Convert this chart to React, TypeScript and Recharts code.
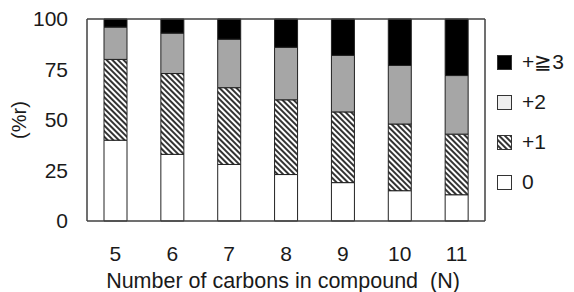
import { BarChart, Bar, XAxis, YAxis } from 'recharts'

const carbons = ['5', '6', '7', '8', '9', '10', '11']
const zero = [40, 33, 28, 23, 19, 15, 13]
const plusOne = [40, 40, 38, 37, 35, 33, 30]
const plusTwo = [16, 20, 24, 26, 28, 29, 29]
const plusThree = [4, 7, 10, 14, 18, 23, 28]
const yTicks = [0, 25, 50, 75, 100]

const FONT = '"Liberation Sans", Arial, sans-serif'
const AXIS = '#404040'
const TEXT = '#1a1a1a'

const data = carbons.map((n, i) => ({
  n,
  zero: zero[i],
  plusOne: plusOne[i],
  plusTwo: plusTwo[i],
  plusThree: plusThree[i],
}))

// legend swatches don't match the bar fills exactly in the original (+2 is lighter there)
const legendItems = [
  { label: '+≧3', fill: '#000000' },
  { label: '+2', fill: '#eeeeee' },
  { label: '+1', fill: 'url(#hatchL)' },
  { label: '0', fill: '#ffffff' },
]

function LegendBox() {
  return (
    <div
      style={{
        position: 'absolute',
        left: 497,
        top: 42,
        fontFamily: FONT,
        fontSize: 21,
        color: TEXT,
      }}
    >
      {legendItems.map((it) => (
        <div key={it.label} style={{ display: 'flex', alignItems: 'center', height: 40 }}>
          <svg width={15} height={15} style={{ marginRight: 10 }}>
            <defs>
              <pattern
                id="hatchL"
                width={4}
                height={4}
                patternUnits="userSpaceOnUse"
                patternTransform="rotate(-45)"
              >
                <rect width={4} height={4} fill="#fff" />
                <line x1={1} y1={0} x2={1} y2={4} stroke="#000" strokeWidth={1.6} />
              </pattern>
            </defs>
            <rect x={0.5} y={0.5} width={14} height={14} fill={it.fill} stroke="#333" strokeWidth={1} />
          </svg>
          <span>{it.label}</span>
        </div>
      ))}
    </div>
  )
}

export default function App() {
  return (
    <div style={{ position: 'absolute', left: 0, top: 0, width: 574, height: 292, background: '#fff' }}>
      <BarChart
        width={574}
        height={292}
        data={data}
        margin={{ top: 18, right: 88, bottom: 41, left: 0 }}
        barSize={23}
      >
        <defs>
          <pattern
            id="hatch"
            width={4}
            height={4}
            patternUnits="userSpaceOnUse"
            patternTransform="rotate(-45)"
          >
            <rect width={4} height={4} fill="#fff" />
            <line x1={1} y1={0} x2={1} y2={4} stroke="#000" strokeWidth={1.6} />
          </pattern>
        </defs>
        <XAxis
          dataKey="n"
          height={30}
          tickLine={false}
          tickSize={0}
          tickMargin={25}
          axisLine={{ stroke: AXIS, strokeWidth: 1.5 }}
          tick={{ fontSize: 21, fontFamily: FONT, fill: TEXT }}
          label={{
            content: () => (
              <text x={283} y={288} textAnchor="middle" fontSize={21.5} fontFamily={FONT} fill={TEXT}>
                {'Number of carbons in compound\u00a0 (N)'}
              </text>
            ),
          }}
        />
        <XAxis
          xAxisId="top"
          dataKey="n"
          orientation="top"
          height={1}
          tick={false}
          tickLine={false}
          axisLine={{ stroke: AXIS, strokeWidth: 1.5 }}
        />
        <YAxis
          width={87}
          domain={[0, 100]}
          ticks={yTicks}
          tickLine={false}
          tickSize={0}
          tickMargin={19}
          axisLine={{ stroke: AXIS, strokeWidth: 1.5 }}
          tick={{ fontSize: 21, fontFamily: FONT, fill: TEXT }}
          label={{
            content: () => (
              <text
                x={19}
                y={120}
                textAnchor="middle"
                dominantBaseline="central"
                transform="rotate(-90 19 120)"
                fontSize={20}
                fontFamily={FONT}
                fill={TEXT}
              >
                (%r)
              </text>
            ),
          }}
        />
        <YAxis
          yAxisId="right"
          orientation="right"
          width={1}
          domain={[0, 100]}
          tick={false}
          tickLine={false}
          axisLine={{ stroke: AXIS, strokeWidth: 1.5 }}
        />
        <Bar dataKey="zero" stackId="a" fill="#ffffff" stroke="#222" strokeWidth={1} isAnimationActive={false} />
        <Bar dataKey="plusOne" stackId="a" fill="url(#hatch)" stroke="#222" strokeWidth={1} isAnimationActive={false} />
        <Bar dataKey="plusTwo" stackId="a" fill="#a6a6a6" stroke="#222" strokeWidth={1} isAnimationActive={false} />
        <Bar dataKey="plusThree" stackId="a" fill="#000000" stroke="#222" strokeWidth={1} isAnimationActive={false} />
      </BarChart>
      <LegendBox />
    </div>
  )
}
